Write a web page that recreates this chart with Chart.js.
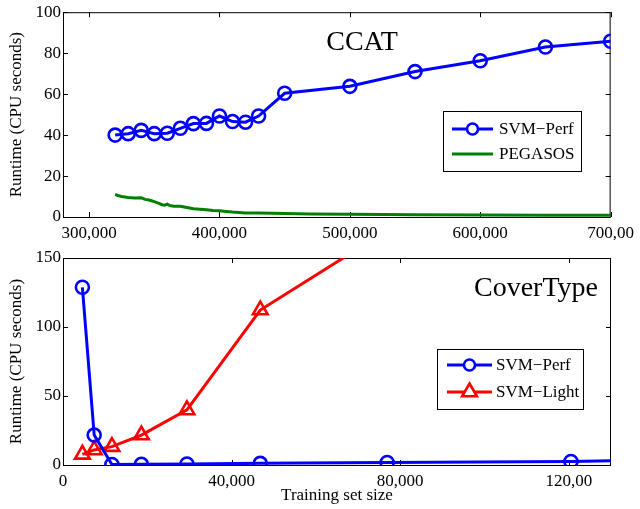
<!DOCTYPE html>
<html>
<head>
<meta charset="utf-8">
<script src="https://cdn.jsdelivr.net/npm/chart.js@4.4.1/dist/chart.umd.min.js"></script>
<style>
  html, body { margin: 0; padding: 0; background: #fff; }
  canvas { display: block; }
</style>
</head>
<body>
<canvas id="ccat" width="640" height="240"></canvas>
<canvas id="cover" width="640" height="269"></canvas>
<script>
// CCAT - tamaño del conjunto de entrenamiento
const ccatSizes = [320000, 330000, 340000, 350000, 360000, 370000, 380000, 390000, 400000,
  410000, 420000, 430000, 450000, 500000, 550000, 600000, 650000, 700000];
const ccatPerf = [40, 40.7, 42.3, 40.7, 40.9, 43.3, 45.6, 45.7, 49.3, 46.6, 46.3, 49.3,
  60.4, 63.8, 71, 76.3, 83, 85.8];
const pegasosSizes = [320000, 322000, 325000, 330000, 335000, 340000, 343000, 346000, 350000,
  353000, 356000, 358000, 360000, 362000, 365000, 370000, 375000, 380000, 385000, 390000,
  395000, 400000, 405000, 410000, 415000, 420000, 430000, 440000, 450000, 470000, 500000,
  550000, 600000, 650000, 700000];
const pegasosTime = [11, 10.5, 10, 9.5, 9.3, 9.4, 8.6, 8.3, 7.5, 6.8, 6.0, 5.8, 6.3, 5.6, 5.3,
  5.2, 4.6, 4.0, 3.8, 3.5, 3.2, 3.0, 2.7, 2.4, 2.2, 2.0, 1.9, 1.8, 1.7, 1.5, 1.3, 1.1, 1.0,
  0.9, 0.9];
const ccatXTicks = [300000, 400000, 500000, 600000, 700000];
const ccatXLabels = ['300,000', '400,000', '500,000', '600,000', '700,00'];
const ccatYTicks = [0, 20, 40, 60, 80, 100];

// CoverType
const coverSizes = [4600, 7400, 11600, 18600, 29400, 46800, 76900, 120500, 130000];
const coverPerf = [128.8, 21.7, 0.4, 0.5, 0.7, 1.2, 1.8, 2.5, 3];
const lightSizes = [4600, 7400, 11600, 18600, 29400, 46800, 76900];
const lightTime = [7.7, 10.9, 13.3, 21.7, 39.9, 112.3, 170];
const coverXTicks = [0, 40000, 80000, 120000];
const coverXLabels = ['0', '40,000', '80,000', '120,00'];
const coverYTicks = [0, 50, 100, 150];

const SERIF = '"Liberation Serif", "Times New Roman", serif';
const BLUE = '#0000ff', GREEN = '#008000', RED = '#ff0000';

function pts(xs, ys) {
  return xs.map((x, i) => ({ x: x, y: ys[i] }));
}

// caja y marcas hacia dentro, como en MATLAB
const boxTicks = {
  id: 'boxTicks',
  beforeDatasetsDraw(chart) {
    const { ctx, chartArea: a, scales: { x, y } } = chart;
    ctx.save();
    ctx.strokeStyle = '#000';
    ctx.lineWidth = 1;
    ctx.beginPath();
    x.ticks.forEach(t => {
      const px = Math.round(x.getPixelForValue(t.value)) + 0.5;
      ctx.moveTo(px, a.bottom); ctx.lineTo(px, a.bottom - 5);
      ctx.moveTo(px, a.top); ctx.lineTo(px, a.top + 5);
    });
    y.ticks.forEach(t => {
      const py = Math.round(y.getPixelForValue(t.value)) + 0.5;
      ctx.moveTo(a.left, py); ctx.lineTo(a.left + 5, py);
      ctx.moveTo(a.right, py); ctx.lineTo(a.right - 5, py);
    });
    ctx.stroke();
    ctx.strokeRect(a.left + 0.5, a.top + 0.5, a.right - a.left - 1, a.bottom - a.top);
    ctx.restore();
  },
  afterDraw(chart, args, opts) {
    const ctx = chart.ctx;
    ctx.save();
    // título dentro del gráfico
    ctx.fillStyle = '#000';
    ctx.font = '28px ' + SERIF;
    ctx.textAlign = 'center';
    ctx.textBaseline = 'alphabetic';
    ctx.fillText(opts.title, opts.titleX, opts.titleY);
    // leyenda
    const b = opts.box;
    ctx.fillStyle = '#fff';
    ctx.fillRect(b[0], b[1], b[2] - b[0], b[3] - b[1]);
    ctx.strokeStyle = '#000';
    ctx.lineWidth = 1;
    ctx.strokeRect(b[0] + 0.5, b[1] + 0.5, b[2] - b[0], b[3] - b[1]);
    ctx.font = '17px ' + SERIF;
    ctx.textAlign = 'left';
    ctx.textBaseline = 'middle';
    opts.items.forEach(it => {
      ctx.strokeStyle = it.color;
      ctx.lineWidth = 3;
      ctx.beginPath();
      ctx.moveTo(opts.lineX[0], it.y);
      ctx.lineTo(opts.lineX[1], it.y);
      ctx.stroke();
      const mx = (opts.lineX[0] + opts.lineX[1]) / 2;
      ctx.lineWidth = 2.6;
      if (it.marker === 'circle') {
        ctx.fillStyle = '#fff';
        ctx.beginPath();
        ctx.arc(mx, it.y, 5.5, 0, Math.PI * 2);
        ctx.fill();
        ctx.stroke();
      } else if (it.marker === 'triangle') {
        const r = 8.5;
        ctx.fillStyle = '#fff';
        ctx.beginPath();
        ctx.moveTo(mx, it.y - r);
        ctx.lineTo(mx + r * Math.sin(2 * Math.PI / 3), it.y + r / 2);
        ctx.lineTo(mx - r * Math.sin(2 * Math.PI / 3), it.y + r / 2);
        ctx.closePath();
        ctx.fill();
        ctx.stroke();
      }
      ctx.fillStyle = '#000';
      ctx.fillText(it.label, opts.textX, it.y + 1);
    });
    ctx.restore();
  }
};

function axes(xmin, xmax, xTicks, xLabels, ymin, ymax, yTicks, xHeight, xTitle) {
  return {
    x: {
      type: 'linear', min: xmin, max: xmax,
      afterBuildTicks: s => { s.ticks = xTicks.map(v => ({ value: v })); },
      afterFit: s => { s.height = xHeight; },
      grid: { display: false, drawTicks: false },
      border: { display: false },
      ticks: {
        autoSkip: false, maxRotation: 0, padding: 6, color: '#000',
        font: { family: SERIF, size: 17 },
        callback: (v, i) => xLabels[i]
      },
      title: {
        display: !!xTitle, text: xTitle || '', color: '#000',
        font: { family: SERIF, size: 17 }, padding: { top: 0, bottom: 3 }
      }
    },
    y: {
      type: 'linear', min: ymin, max: ymax,
      afterBuildTicks: s => { s.ticks = yTicks.map(v => ({ value: v })); },
      afterFit: s => { s.width = 63; },
      grid: { display: false, drawTicks: false },
      border: { display: false },
      ticks: { padding: 2, color: '#000', font: { family: SERIF, size: 17 } },
      title: {
        display: true, text: 'Runtime (CPU seconds)', color: '#000',
        font: { family: SERIF, size: 17 }, padding: { top: 6, bottom: 0 }
      }
    }
  };
}

new Chart(document.getElementById('ccat'), {
  type: 'line',
  data: {
    datasets: [{
      label: 'SVM−Perf',
      data: pts(ccatSizes, ccatPerf),
      borderColor: BLUE, borderWidth: 3,
      pointStyle: 'circle', pointRadius: 6.5, pointBorderWidth: 2.6,
      pointBorderColor: BLUE, pointBackgroundColor: 'rgba(0,0,0,0)',
      tension: 0
    }, {
      label: 'PEGASOS',
      data: pts(pegasosSizes, pegasosTime),
      borderColor: GREEN, borderWidth: 3, pointRadius: 0, tension: 0
    }]
  },
  options: {
    responsive: false, animation: false, devicePixelRatio: 1,
    layout: { padding: { top: 10, right: 29, left: 0, bottom: 0 } },
    scales: axes(280000, 700000, ccatXTicks, ccatXLabels, 0, 100, ccatYTicks, 23, null),
    plugins: {
      legend: { display: false }, tooltip: { enabled: false },
      boxTicks: {
        title: 'CCAT', titleX: 362, titleY: 50,
        box: [443, 111, 581, 171], lineX: [452, 493], textX: 499,
        items: [
          { label: 'SVM−Perf', color: BLUE, marker: 'circle', y: 129 },
          { label: 'PEGASOS', color: GREEN, marker: null, y: 154 }
        ]
      }
    }
  },
  plugins: [boxTicks]
});

new Chart(document.getElementById('cover'), {
  type: 'line',
  data: {
    datasets: [{
      label: 'SVM−Perf',
      data: pts(coverSizes, coverPerf),
      borderColor: BLUE, borderWidth: 3,
      pointStyle: 'circle', pointRadius: [6.5, 6.5, 6.5, 6.5, 6.5, 6.5, 6.5, 6.5, 0],
      pointBorderWidth: 2.6,
      pointBorderColor: BLUE, pointBackgroundColor: 'rgba(0,0,0,0)',
      tension: 0
    }, {
      label: 'SVM−Light',
      data: pts(lightSizes, lightTime),
      borderColor: RED, borderWidth: 3,
      pointStyle: 'triangle', pointRadius: 8.5, pointBorderWidth: 2.6,
      pointBorderColor: RED, pointBackgroundColor: 'rgba(0,0,0,0)',
      clip: { left: 12, top: 0, right: 12, bottom: 12 },
      tension: 0
    }]
  },
  options: {
    responsive: false, animation: false, devicePixelRatio: 1,
    layout: { padding: { top: 18, right: 29, left: 0, bottom: 0 } },
    scales: axes(0, 130000, coverXTicks, coverXLabels, 0, 150, coverYTicks, 44, 'Training set size'),
    plugins: {
      legend: { display: false }, tooltip: { enabled: false },
      boxTicks: {
        title: 'CoverType', titleX: 536, titleY: 56,
        box: [437, 109, 583, 169], lineX: [447, 492], textX: 496,
        items: [
          { label: 'SVM−Perf', color: BLUE, marker: 'circle', y: 125 },
          { label: 'SVM−Light', color: RED, marker: 'triangle', y: 152 }
        ]
      }
    }
  },
  plugins: [boxTicks]
});
</script>
</body>
</html>
